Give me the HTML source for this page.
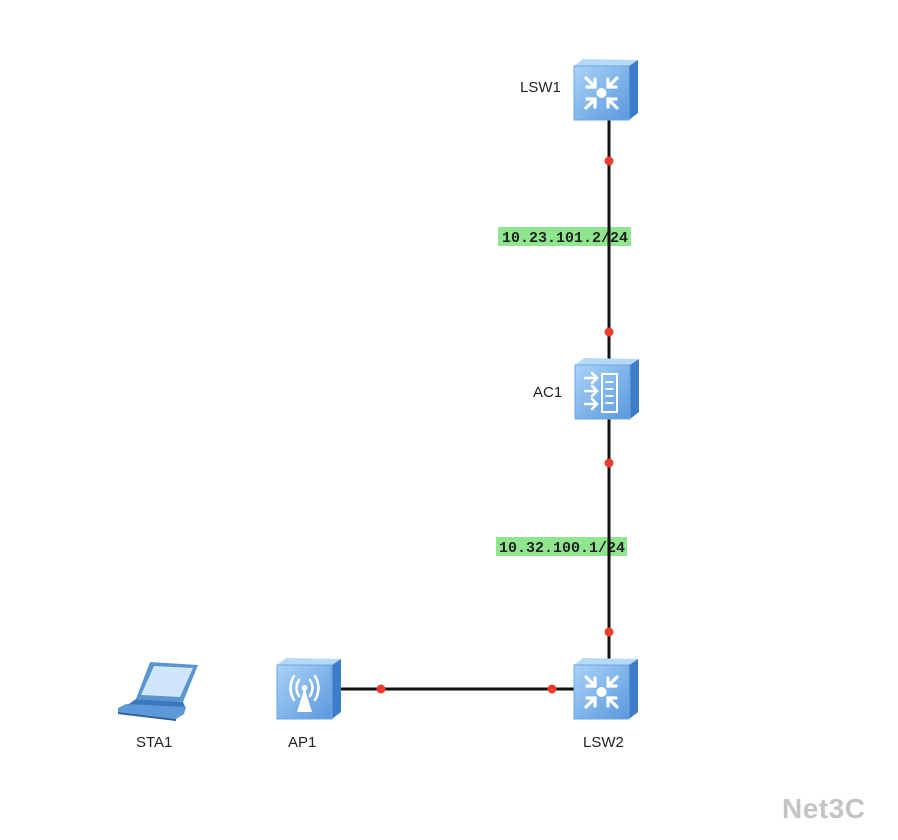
<!DOCTYPE html>
<html><head><meta charset="utf-8"><style>
html,body{margin:0;padding:0;background:#fff;}
svg{display:block;}
</style></head><body>
<svg width="898" height="840" viewBox="0 0 898 840" xmlns="http://www.w3.org/2000/svg" font-family="Liberation Sans, sans-serif">
<defs>
<linearGradient id="fr" x1="0" y1="0" x2="1" y2="1">
<stop offset="0" stop-color="#a9d3f7"/><stop offset="1" stop-color="#5a98de"/></linearGradient>
<g id="box">
<polygon points="0,7 9,0 64,1 55,7" fill="#b5d9f8"/>
<polygon points="55,7 64,1 64,54 55,61" fill="#3d7cc8"/>
<rect x="0" y="7" width="55" height="54" fill="url(#fr)" stroke="#6ea5e0" stroke-width="1"/>
</g>
<g id="sw" fill="none" stroke="#fff" stroke-width="3.2" stroke-linecap="round">
<use href="#box" stroke="none"/>
<circle cx="27.5" cy="34" r="5" fill="#fff" stroke="none"/>
<path d="M12 19 L21 28 M21 20 L21 28 L13 28"/>
<path d="M43 19 L34 28 M34 20 L34 28 L42 28"/>
<path d="M12 49 L21 40 M21 48 L21 40 L13 40"/>
<path d="M43 49 L34 40 M34 48 L34 40 L42 40"/>
</g>
</defs>
<g stroke="#111" stroke-width="3">
<line x1="609" y1="118" x2="609" y2="360"/>
<line x1="609" y1="418" x2="609" y2="660"/>
<line x1="341" y1="689" x2="575" y2="689"/>
</g>
<rect x="498" y="227" width="133" height="19" fill="#8fe68f"/>
<text x="502" y="242" textLength="126" lengthAdjust="spacingAndGlyphs" style="font-family:'Liberation Mono',monospace;font-weight:bold;font-size:15px" fill="#222">10.23.101.2/24</text>
<rect x="496" y="537" width="131" height="19" fill="#8fe68f"/>
<text x="499" y="552" textLength="126" lengthAdjust="spacingAndGlyphs" style="font-family:'Liberation Mono',monospace;font-weight:bold;font-size:15px" fill="#222">10.32.100.1/24</text>
<line x1="609" y1="222" x2="609" y2="250" stroke="#111" stroke-width="3"/>
<line x1="609" y1="532" x2="609" y2="560" stroke="#111" stroke-width="3"/>
<g fill="#f03c2e">
<circle cx="609" cy="161" r="4.5"/><circle cx="609" cy="332" r="4.5"/>
<circle cx="609" cy="463" r="4.5"/><circle cx="609" cy="632" r="4.5"/>
<circle cx="381" cy="689" r="4.5"/><circle cx="552" cy="689" r="4.5"/>
</g>
<use href="#sw" x="574" y="59"/>
<use href="#sw" x="574" y="658"/>
<g transform="translate(575,358)">
<use href="#box"/>
<g fill="none" stroke="#fff" stroke-width="2.5" stroke-linecap="round">
<path d="M10 20 H22 M17 15 L22 20 L17 25"/>
<path d="M10 33 H22 M17 28 L22 33 L17 38"/>
<path d="M10 46 H22 M17 41 L22 46 L17 51"/>
<path d="M27 16 H42 V54 H27 Z" stroke-width="2"/>
<path d="M31 24 H38 M31 31 H38 M31 38 H38 M31 45 H38" stroke-width="1.8"/>
</g>
</g>
<g transform="translate(277,658)">
<use href="#box"/>
<g fill="none" stroke="#fff" stroke-width="2.5" stroke-linecap="round">
<path d="M22 22 Q17 30 22 38"/><path d="M17 18 Q10 30 17 42"/>
<path d="M33 22 Q38 30 33 38"/><path d="M38 18 Q45 30 38 42"/>
</g>
<circle cx="27.5" cy="30" r="3" fill="#fff"/>
<polygon points="27.5,30 20,54 35,54" fill="#fff"/>
</g>
<g>
<polygon points="150,662 198,665 183,702 136,699" fill="#5b95cf"/>
<polygon points="154,666 193,668 180,697 141,695" fill="#cfe6fb"/>
<polygon points="136,699 183,702 186,709 126,706" fill="#3b77bd"/>
<polygon points="118,708 126,704 186,707 184,714 176,719 118,712" fill="#5c99d8"/>
<polygon points="118,712 176,719 176,721 118,714" fill="#2d5f9a"/>
</g>
<g font-size="15" fill="#222">
<text x="520" y="92">LSW1</text>
<text x="533" y="397">AC1</text>
<text x="583" y="747">LSW2</text>
<text x="288" y="747">AP1</text>
<text x="136" y="747">STA1</text>
</g>
<text x="782" y="818" font-size="28" font-weight="bold" fill="#c4c4c4" letter-spacing="0.5">Net3C</text>
</svg>
</body></html>
